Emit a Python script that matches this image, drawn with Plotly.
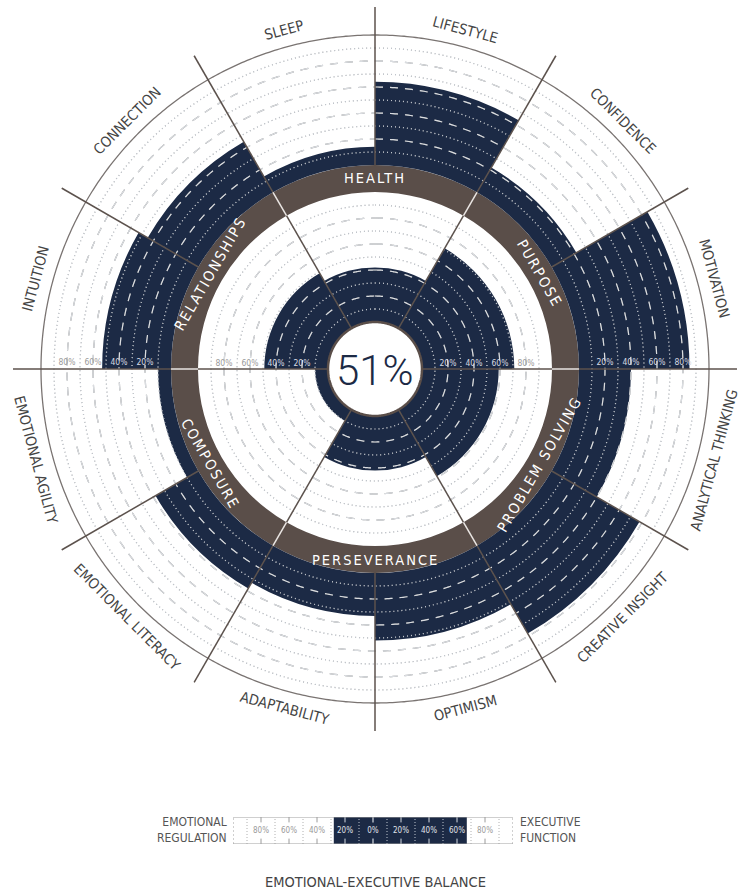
import numpy as np
import plotly.graph_objects as go

# ---------------- data ----------------
inner_labels = ["HEALTH", "PURPOSE", "PROBLEM SOLVING", "PERSEVERANCE", "COMPOSURE", "RELATIONSHIPS"]
inner_values = [42, 71, 59, 42, 10, 49]

outer_labels = ["LIFESTYLE", "CONFIDENCE", "MOTIVATION", "ANALYTICAL THINKING",
                "CREATIVE INSIGHT", "OPTIMISM", "ADAPTABILITY", "EMOTIONAL LITERACY",
                "EMOTIONAL AGILITY", "INTUITION", "CONNECTION", "SLEEP"]
outer_values = [64, 22, 85, 40, 78, 52, 33, 38, 10, 53, 45, 14]

center_score = "51%"
scale_ticks = [20, 40, 60, 80]

balance_ticks = [-80, -60, -40, -20, 0, 20, 40, 60, 80]
balance_range = [-28, 67]
balance_left = "EMOTIONAL<br>REGULATION"
balance_right = "EXECUTIVE<br>FUNCTION"
balance_title = "EMOTIONAL-EXECUTIVE BALANCE"

# ---------------- style / geometry ----------------
W, H = 744, 892
CX, CY = 375, 369
U = 1.3                      # pixels per percent
R_CENTER = 47 / U
R_BROWN_IN = 177 / U
R_BROWN_OUT = 204 / U
R_OUTER = 334 / U
R_END = 362 / U

NAVY = "#1c2a45"
BROWN = "#5a4e49"
LINE = "#5c524d"
TXT = "#444444"
FONT = "Liberation Sans Narrow, DejaVu Sans Condensed, Arial Narrow, sans-serif"

n_in = len(inner_labels)
n_out = len(outer_labels)
w_in = 360 / n_in
w_out = 360 / n_out
theta_in = [i * w_in for i in range(n_in)]
theta_out = [w_out / 2 + i * w_out for i in range(n_out)]

circ = np.linspace(0, 360, 721)

fig = go.Figure()

# gray grid circles (under bars)
for base in (R_CENTER, R_BROWN_OUT):
    for k in range(1, 10):
        r = base + 10 * k
        dashed = k % 2 == 0
        fig.add_trace(go.Scatterpolar(
            r=[r] * len(circ), theta=circ, mode="lines", hoverinfo="skip",
            line=dict(color="#767676" if dashed else "#aaaaaa", width=1.2,
                      dash="8px,7px" if dashed else "1px,3px")))

# inner bars
fig.add_trace(go.Barpolar(r=inner_values, theta=theta_in, width=[w_in] * n_in,
                          base=[R_CENTER] * n_in, marker=dict(color=NAVY, line=dict(width=0)),
                          hoverinfo="skip"))
# brown ring
fig.add_trace(go.Barpolar(r=[R_BROWN_OUT - R_BROWN_IN] * n_in, theta=theta_in, width=[w_in] * n_in,
                          base=[R_BROWN_IN] * n_in, marker=dict(color=BROWN, line=dict(width=0)),
                          hoverinfo="skip"))
# outer bars
fig.add_trace(go.Barpolar(r=outer_values, theta=theta_out, width=[w_out] * n_out,
                          base=[R_BROWN_OUT] * n_out, marker=dict(color=NAVY, line=dict(width=0)),
                          hoverinfo="skip"))

# white grid circles (over bars, visible only on navy)
for base in (R_CENTER, R_BROWN_OUT):
    for k in range(1, 10):
        r = base + 10 * k
        dashed = k % 2 == 0
        fig.add_trace(go.Scatterpolar(
            r=[r] * len(circ), theta=circ, mode="lines", hoverinfo="skip",
            line=dict(color="rgba(235,238,243,0.85)" if dashed else "rgba(200,206,216,0.7)",
                      width=1.2, dash="8px,7px" if dashed else "1px,3px")))

# outer circle
fig.add_trace(go.Scatterpolar(r=[R_OUTER] * len(circ), theta=circ, mode="lines",
                              hoverinfo="skip", line=dict(color="#7a7472", width=1.3)))

# radial separator lines
gr, gt, lr, lt = [], [], [], []
for i in range(n_out):
    t = i * w_out
    if (t - w_in / 2) % w_in == 0:     # inner sector boundary -> full length
        gr += [R_CENTER, R_BROWN_IN, None, R_BROWN_OUT, R_END, None]
        gt += [t, t, None, t, t, None]
        lr += [R_BROWN_IN, R_BROWN_OUT, None]
        lt += [t, t, None]
    else:
        gr += [R_BROWN_OUT, R_END, None]
        gt += [t, t, None]
fig.add_trace(go.Scatterpolar(r=gr, theta=gt, mode="lines", hoverinfo="skip",
                              line=dict(color=LINE, width=1.5)))
fig.add_trace(go.Scatterpolar(r=lr, theta=lt, mode="lines", hoverinfo="skip",
                              line=dict(color="#e9e5e2", width=1.5)))

# center circle
fig.add_trace(go.Scatterpolar(r=[R_CENTER] * len(circ), theta=circ, mode="lines",
                              fill="toself", fillcolor="white", hoverinfo="skip",
                              line=dict(color=BROWN, width=2.5)))

# percent scale labels along horizontal axis
def lab_col(dark):
    return "#d6dae2" if dark else "#9a9a9a"

right_in = inner_values[1]     # sector just above the right horizontal
left_in = inner_values[-1]     # sector just above the left horizontal
right_out = outer_values[2]
left_out = outer_values[9]
for base, rv, lv in ((R_CENTER, right_in, left_in), (R_BROWN_OUT, right_out, left_out)):
    fig.add_trace(go.Scatterpolar(
        r=[base + t for t in scale_ticks] * 2,
        theta=[89.6] * len(scale_ticks) + [270.4] * len(scale_ticks),
        mode="text", text=[f"{t}%" for t in scale_ticks] * 2, textposition="top center",
        hoverinfo="skip",
        textfont=dict(family=FONT, size=8.5,
                      color=[lab_col(t <= rv) for t in scale_ticks] + [lab_col(t <= lv) for t in scale_ticks])))

fig.update_layout(
    width=W, height=H, margin=dict(l=0, r=0, t=0, b=0),
    paper_bgcolor="white", plot_bgcolor="white", showlegend=False,
    polar=dict(
        domain=dict(x=[(CX - R_END * U) / W, (CX + R_END * U) / W],
                    y=[1 - (CY + R_END * U) / H, 1 - (CY - R_END * U) / H]),
        bgcolor="white", bargap=0, hole=0,
        radialaxis=dict(range=[0, R_END], visible=False, showgrid=False, showline=False,
                        showticklabels=False, ticks=""),
        angularaxis=dict(rotation=90, direction="clockwise", visible=False, showgrid=False,
                         showline=False, showticklabels=False, ticks=""),
    ),
)

def px(x, y):
    return x / W, 1 - y / H

ann = []
# center score
x, y = px(CX, CY + 1)
ann.append(dict(x=x, y=y, xref="paper", yref="paper", text=center_score, showarrow=False,
                font=dict(family="Roboto, " + FONT, size=42, color=NAVY, weight=300),
                xanchor="center", yanchor="middle"))

# brown ring labels
r_mid = (R_BROWN_IN + R_BROWN_OUT) / 2 * U
for lab, t in zip(inner_labels, theta_in):
    a = np.radians(t)
    x, y = px(CX + r_mid * np.sin(a), CY - r_mid * np.cos(a))
    ang = t if (t <= 90 or t >= 270) else t - 180
    if ang > 180:
        ang -= 360
    ann.append(dict(x=x, y=y, xref="paper", yref="paper",
                    text=f'<span style="letter-spacing:2px">{lab}</span>', showarrow=False,
                    textangle=ang, xanchor="center", yanchor="middle",
                    font=dict(family=FONT, size=14.5, color="white")))

# outer labels
r_lab = 351
for lab, t in zip(outer_labels, theta_out):
    a = np.radians(t)
    x, y = px(CX + r_lab * np.sin(a), CY - r_lab * np.cos(a))
    ang = t if (t < 90 or t > 270) else t - 180
    if ang > 180:
        ang -= 360
    ann.append(dict(x=x, y=y, xref="paper", yref="paper", text=lab, showarrow=False,
                    textangle=ang, xanchor="center", yanchor="middle",
                    font=dict(family=FONT, size=14.5, color=TXT)))

# ---------------- balance bar (bottom) ----------------
bx0, bx1, by0, by1 = 233, 513, 817, 844
fig.update_layout(
    xaxis=dict(domain=[bx0 / W, bx1 / W], range=[-100, 100], visible=False, fixedrange=True),
    yaxis=dict(domain=[1 - by1 / H, 1 - by0 / H], range=[0, 1], visible=False, fixedrange=True),
)
fig.add_trace(go.Bar(x=[balance_range[1] - balance_range[0]], base=[balance_range[0]], y=[0.5],
                     orientation="h", width=1.0, marker=dict(color=NAVY, line=dict(width=0)),
                     hoverinfo="skip", xaxis="x", yaxis="y"))

def in_dark(v):
    return balance_range[0] <= v <= balance_range[1]

shapes = []
# dotted ticks between labels
for v in range(-90, 100, 20):
    shapes.append(dict(type="line", xref="x", yref="y", x0=v, x1=v, y0=0, y1=1,
                       line=dict(color="rgba(235,238,243,0.8)" if in_dark(v) else "#b0b0b0",
                                 width=1, dash="1px,2px")))
# short ticks at labels
for v in balance_ticks:
    c = "rgba(235,238,243,0.9)" if in_dark(v) else "#9a9a9a"
    for (a0, a1) in ((0, 0.2), (0.8, 1)):
        shapes.append(dict(type="line", xref="x", yref="y", x0=v, x1=v, y0=a0, y1=a1,
                           line=dict(color=c, width=1.2 if v == 0 else 1)))
# box outline
shapes.append(dict(type="line", xref="x", yref="y", x0=-100, x1=100, y0=0, y1=0,
                   line=dict(color="#a0a0a0", width=1)))
shapes.append(dict(type="line", xref="x", yref="y", x0=-100, x1=100, y0=1, y1=1,
                   line=dict(color="#a0a0a0", width=1)))
for v in (-100, 100):
    shapes.append(dict(type="line", xref="x", yref="y", x0=v, x1=v, y0=0, y1=1,
                       line=dict(color="#a0a0a0", width=1, dash="2px,2px")))

fig.add_trace(go.Scatter(x=balance_ticks, y=[0.5] * len(balance_ticks), mode="text",
                         text=[f"{abs(v)}%" for v in balance_ticks], hoverinfo="skip",
                         textfont=dict(family=FONT, size=8,
                                       color=["#e0e3ea" if in_dark(v) else "#9a9a9a" for v in balance_ticks]),
                         xaxis="x", yaxis="y"))

x, y = px(229, 830)
ann.append(dict(x=x, y=y, xref="paper", yref="paper", text=balance_left, showarrow=False,
                xanchor="right", yanchor="middle", align="right",
                font=dict(family=FONT, size=12, color="#555555")))
x, y = px(518, 830)
ann.append(dict(x=x, y=y, xref="paper", yref="paper", text=balance_right, showarrow=False,
                xanchor="left", yanchor="middle", align="left",
                font=dict(family=FONT, size=12, color="#555555")))
x, y = px(375, 882)
ann.append(dict(x=x, y=y, xref="paper", yref="paper", text=balance_title, showarrow=False,
                xanchor="center", yanchor="middle",
                font=dict(family=FONT, size=14.5, color="#444444")))

fig.update_layout(annotations=ann, shapes=shapes)
fig.write_html("out.html", config={"displayModeBar": False, "staticPlot": True},
               post_script="document.body.style.margin='0';document.body.style.padding='0';")
